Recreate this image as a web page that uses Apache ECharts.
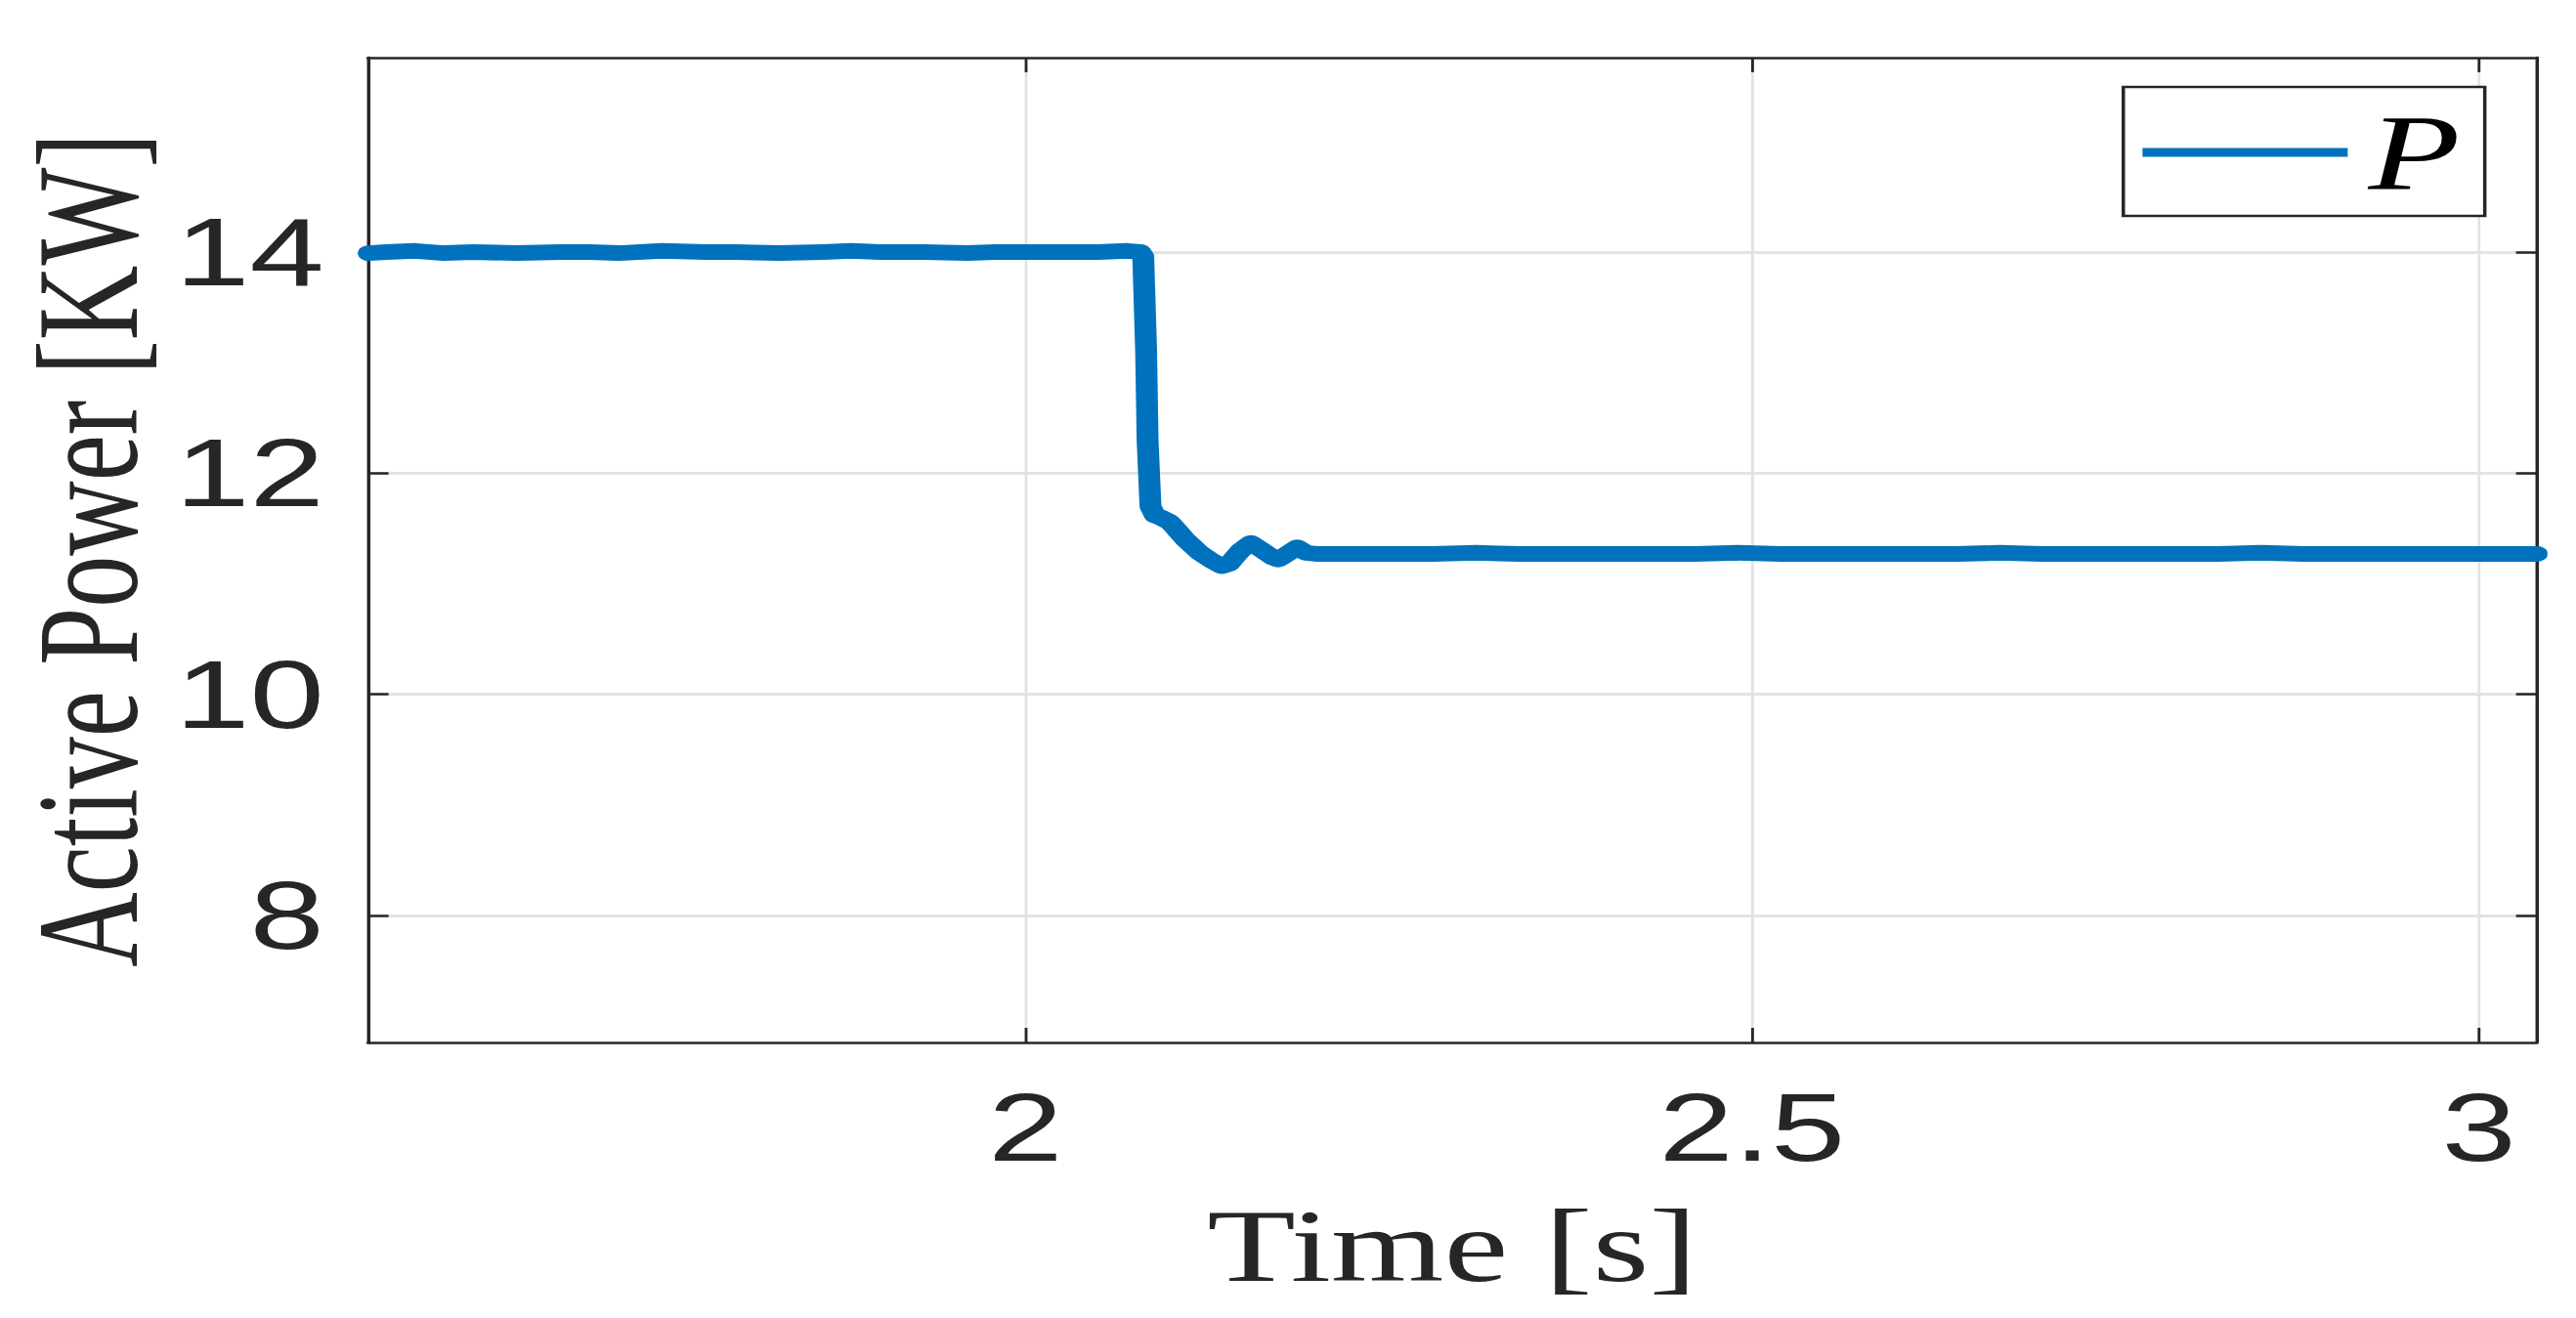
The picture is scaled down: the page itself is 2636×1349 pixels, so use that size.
<!DOCTYPE html>
<html>
<head>
<meta charset="utf-8">
<title>Active Power</title>
<script src="https://cdn.jsdelivr.net/npm/echarts@6/dist/echarts.min.js"></script>
<style>
    html, body {
        margin: 0;
        padding: 0;
        background: #ffffff;
        overflow: hidden;
    }
    /* the figure is stretched sideways, so draw narrow and widen it */
    #graph {
        position: absolute;
        left: 0;
        top: 0;
        width: 1883px;
        height: 1349px;
        transform: scaleX(1.4);
        transform-origin: 0 0;
    }
</style>
</head>
<body>
<div id="graph"></div>
<script>
// time [s]
var timeS = [
    1.548, 1.56, 1.58, 1.60, 1.62, 1.65, 1.68, 1.70, 1.72, 1.75,
    1.78, 1.80, 1.83, 1.86, 1.88, 1.90, 1.93, 1.96, 1.98, 2.00,
    2.03, 2.05, 2.07, 2.079, 2.081, 2.083, 2.084, 2.086, 2.089, 2.093,
    2.099, 2.102, 2.11, 2.12, 2.128, 2.135, 2.14, 2.148, 2.155, 2.162,
    2.17, 2.174, 2.18, 2.187, 2.193, 2.20, 2.22, 2.25, 2.28, 2.31,
    2.34, 2.37, 2.40, 2.43, 2.46, 2.49, 2.52, 2.55, 2.58, 2.61,
    2.64, 2.67, 2.70, 2.73, 2.76, 2.79, 2.82, 2.85, 2.88, 2.91,
    2.94, 2.97, 3.00, 3.02, 3.04
];
// active power [KW]
var powerKW = [
    13.99, 14.00, 14.01, 13.99, 14.00, 13.99, 14.00, 14.00, 13.99, 14.01,
    14.00, 14.00, 13.99, 14.00, 14.01, 14.00, 14.00, 13.99, 14.00, 14.00,
    14.00, 14.00, 14.01, 14.00, 13.96, 13.10, 12.30, 11.70, 11.62, 11.60,
    11.56, 11.52, 11.40, 11.28, 11.21, 11.16, 11.18, 11.30, 11.37, 11.31,
    11.24, 11.22, 11.27, 11.33, 11.28, 11.27, 11.27, 11.27, 11.27, 11.28,
    11.27, 11.27, 11.27, 11.27, 11.27, 11.28, 11.27, 11.27, 11.27, 11.27,
    11.27, 11.28, 11.27, 11.27, 11.27, 11.27, 11.27, 11.28, 11.27, 11.27,
    11.27, 11.27, 11.27, 11.27, 11.27
];
var xTicks = [2, 2.5, 3];
var yTicks = [8, 10, 12, 14];

var seriesData = [];
for (var i = 0; i < timeS.length; i++) {
    seriesData.push([timeS[i], powerKW[i]]);
}

var page_graph = document.getElementById("graph");
var ctx_graph = echarts.init(page_graph, null, {renderer: 'svg'});

var boxColor = '#262626';
var gridColor = '#e3e3e3';
var sansFont = '"Liberation Sans", Arial, Helvetica, sans-serif';
var serifFont = '"Liberation Serif", "Times New Roman", serif';

ctx_graph.setOption({
    animation: false,
    backgroundColor: '#ffffff',
    grid: {
        left: 269,
        right: 29,
        top: 59,
        bottom: 282,
        containLabel: false
    },
    legend: {
        left: 1552,
        top: 89,
        data: [{name: 'P', icon: 'rect'}],
        itemWidth: 150,
        itemHeight: 9,
        padding: [12, 18, 10, 14],
        borderColor: boxColor,
        borderWidth: 2.5,
        backgroundColor: '#ffffff',
        selectedMode: false,
        textStyle: {
            fontFamily: serifFont,
            fontStyle: 'italic',
            fontSize: 110,
            color: '#000000',
            lineHeight: 100,
            padding: [0, 0, 0, 10]
        }
    },
    xAxis: [
        {
            type: 'value',
            position: 'bottom',
            min: 1.5476,
            max: 3.0397,
            name: 'Time [s]',
            nameLocation: 'middle',
            nameGap: 155,
            nameTextStyle: {
                fontFamily: serifFont,
                fontSize: 106,
                color: boxColor
            },
            axisLine: {show: true, lineStyle: {color: boxColor, width: 2.5}},
            axisTick: {show: true, inside: true, length: 15, customValues: xTicks,
                lineStyle: {color: boxColor, width: 2}},
            axisLabel: {show: true, customValues: xTicks, margin: 38,
                fontFamily: sansFont, fontSize: 98, color: boxColor,
                formatter: function (v) { return String(v); }},
            splitLine: {show: true, lineStyle: {color: gridColor, width: 2}}
        },
        {
            type: 'value',
            position: 'top',
            min: 1.5476,
            max: 3.0397,
            axisLine: {show: true, lineStyle: {color: boxColor, width: 2.5}},
            axisTick: {show: true, inside: true, length: 15, customValues: xTicks,
                lineStyle: {color: boxColor, width: 2}},
            axisLabel: {show: false},
            splitLine: {show: false}
        }
    ],
    yAxis: [
        {
            type: 'value',
            position: 'left',
            min: 6.852,
            max: 15.758,
            name: 'Active Power [KW]',
            nameLocation: 'middle',
            nameGap: 150,
            nameTextStyle: {
                fontFamily: serifFont,
                fontSize: 106,
                color: boxColor
            },
            axisLine: {show: true, lineStyle: {color: boxColor, width: 2.5}},
            axisTick: {show: true, inside: true, length: 15, customValues: yTicks,
                lineStyle: {color: boxColor, width: 2.5}},
            axisLabel: {show: true, customValues: yTicks, margin: 32,
                fontFamily: sansFont, fontSize: 98, color: boxColor},
            splitLine: {show: true, lineStyle: {color: gridColor, width: 3}}
        },
        {
            type: 'value',
            position: 'right',
            min: 6.852,
            max: 15.758,
            axisLine: {show: true, lineStyle: {color: boxColor, width: 2.5}},
            axisTick: {show: true, inside: true, length: 15, customValues: yTicks,
                lineStyle: {color: boxColor, width: 2.5}},
            axisLabel: {show: false},
            splitLine: {show: false}
        }
    ],
    series: [
        {
            type: 'line',
            name: 'P',
            xAxisIndex: 0,
            yAxisIndex: 0,
            data: seriesData,
            symbol: 'none',
            showSymbol: false,
            lineStyle: {color: '#0072BD', width: 16, join: 'round', cap: 'round'},
            itemStyle: {color: '#0072BD'},
            emphasis: {disabled: true}
        }
    ]
});
</script>
</body>
</html>
